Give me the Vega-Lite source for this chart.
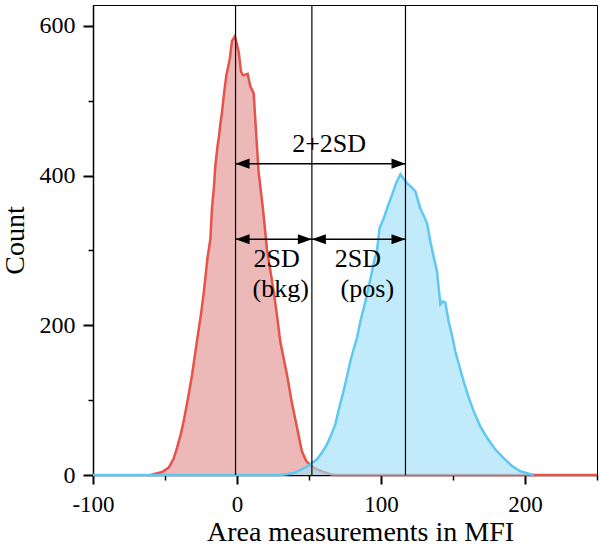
{
  "$schema": "https://vega.github.io/schema/vega-lite/v6.json",
  "width": 504,
  "height": 470,
  "autosize": "none",
  "padding": {"left": 93, "top": 5, "right": 3, "bottom": 70},
  "background": "white",
  "config": {
    "view": {"stroke": "black", "strokeWidth": 1},
    "font": "Liberation Serif"
  },
  "datasets": {
    "bkg": [
      {"mfi": -60, "count": 0}, {"mfi": -58, "count": 1}, {"mfi": -52, "count": 4}, {"mfi": -47.4, "count": 10},
      {"mfi": -44, "count": 22}, {"mfi": -41.7, "count": 36}, {"mfi": -39, "count": 55}, {"mfi": -37, "count": 72},
      {"mfi": -34, "count": 103}, {"mfi": -31.2, "count": 134}, {"mfi": -27.8, "count": 179}, {"mfi": -25, "count": 215},
      {"mfi": -23, "count": 245}, {"mfi": -20.5, "count": 290}, {"mfi": -18.5, "count": 315}, {"mfi": -17.4, "count": 356},
      {"mfi": -16, "count": 385}, {"mfi": -15, "count": 414}, {"mfi": -13.5, "count": 440}, {"mfi": -12.7, "count": 450},
      {"mfi": -11.5, "count": 470}, {"mfi": -10.4, "count": 485}, {"mfi": -9, "count": 510}, {"mfi": -7.4, "count": 534},
      {"mfi": -5, "count": 556}, {"mfi": -3.5, "count": 580}, {"mfi": -1.5, "count": 586}, {"mfi": 0, "count": 575},
      {"mfi": 1.2, "count": 565}, {"mfi": 2.8, "count": 539}, {"mfi": 4.2, "count": 534}, {"mfi": 7.4, "count": 536},
      {"mfi": 9.3, "count": 519}, {"mfi": 11.6, "count": 510}, {"mfi": 12.8, "count": 472}, {"mfi": 15, "count": 405},
      {"mfi": 18, "count": 356}, {"mfi": 20.8, "count": 302}, {"mfi": 23, "count": 275}, {"mfi": 25.5, "count": 245},
      {"mfi": 28, "count": 210}, {"mfi": 30, "count": 179}, {"mfi": 32.5, "count": 155}, {"mfi": 34.7, "count": 134},
      {"mfi": 38, "count": 98}, {"mfi": 41.7, "count": 63}, {"mfi": 45, "count": 32}, {"mfi": 48, "count": 19},
      {"mfi": 51, "count": 13}, {"mfi": 55, "count": 8}, {"mfi": 60, "count": 4}, {"mfi": 65, "count": 1},
      {"mfi": 68, "count": 0}, {"mfi": 250, "count": 0}
    ],
    "pos": [
      {"mfi": -100, "count": 0}, {"mfi": 30, "count": 0}, {"mfi": 34.7, "count": 1}, {"mfi": 40, "count": 3},
      {"mfi": 47.5, "count": 10}, {"mfi": 52, "count": 16}, {"mfi": 55.6, "count": 21}, {"mfi": 59, "count": 30},
      {"mfi": 62.5, "count": 41}, {"mfi": 65.5, "count": 54}, {"mfi": 68.3, "count": 68}, {"mfi": 71, "count": 90},
      {"mfi": 74, "count": 112}, {"mfi": 76.5, "count": 133}, {"mfi": 78.7, "count": 152}, {"mfi": 81, "count": 168},
      {"mfi": 83.3, "count": 183}, {"mfi": 86, "count": 208}, {"mfi": 89.2, "count": 232}, {"mfi": 91.5, "count": 252},
      {"mfi": 93.7, "count": 272}, {"mfi": 95.5, "count": 288}, {"mfi": 97.2, "count": 299}, {"mfi": 99, "count": 330},
      {"mfi": 101.9, "count": 343}, {"mfi": 104.5, "count": 358}, {"mfi": 107.6, "count": 374}, {"mfi": 110.5, "count": 390},
      {"mfi": 113.5, "count": 402}, {"mfi": 116, "count": 395}, {"mfi": 118, "count": 390}, {"mfi": 121, "count": 385},
      {"mfi": 123.9, "count": 379}, {"mfi": 125.5, "count": 368}, {"mfi": 127.3, "count": 356}, {"mfi": 130, "count": 345},
      {"mfi": 132, "count": 336}, {"mfi": 134.3, "count": 312}, {"mfi": 136.5, "count": 292}, {"mfi": 138.9, "count": 272},
      {"mfi": 141.2, "count": 228}, {"mfi": 143, "count": 232}, {"mfi": 144.7, "count": 230}, {"mfi": 147, "count": 205},
      {"mfi": 149.5, "count": 185}, {"mfi": 151.6, "count": 165}, {"mfi": 154.5, "count": 145}, {"mfi": 157.4, "count": 125},
      {"mfi": 161, "count": 103}, {"mfi": 164.4, "count": 85}, {"mfi": 169, "count": 65}, {"mfi": 173.6, "count": 50},
      {"mfi": 179, "count": 35}, {"mfi": 185, "count": 23}, {"mfi": 191, "count": 12}, {"mfi": 196.8, "count": 5},
      {"mfi": 202, "count": 2}, {"mfi": 206, "count": 0}
    ],
    "markers": [{"mfi": -1}, {"mfi": 52}, {"mfi": 117}],
    "arrows": [
      {"mfi": -1, "mfi_end": 117, "count": 416},
      {"mfi": -1, "mfi_end": 52, "count": 315},
      {"mfi": 52, "mfi_end": 117, "count": 315}
    ],
    "labels": [
      {"mfi": 64, "count": 442, "text": "2+2SD"},
      {"mfi": 27.5, "count": 289, "text": "2SD"},
      {"mfi": 30.3, "count": 249, "text": "(bkg)"},
      {"mfi": 83.9, "count": 289, "text": "2SD"},
      {"mfi": 90.5, "count": 249, "text": "(pos)"}
    ]
  },
  "layer": [
    {
      "data": {"name": "bkg"},
      "mark": {"type": "area", "color": "#EDB8B8", "opacity": 1, "line": {"color": "#E5534B", "strokeWidth": 2.5}},
      "encoding": {
        "x": {
          "field": "mfi", "type": "quantitative",
          "scale": {"domain": [-100, 250], "nice": false, "zero": false},
          "axis": {
            "title": "Area measurements in MFI",
            "values": [-100, -75, -50, -25, 0, 25, 50, 75, 100, 125, 150, 175, 200, 225, 250],
            "labelExpr": "datum.value % 100 === 0 ? '' + datum.value : ''",
            "labelFont": "Liberation Serif", "labelFontSize": 23, "labelColor": "black",
            "labelPadding": 9, "labelFlush": false, "labelOverlap": false,
            "tickSize": {"condition": {"test": "datum.value % 100 === 0", "value": 9}, "value": 5},
            "tickWidth": {"condition": {"test": "datum.value % 100 === 0", "value": 2}, "value": 1.5},
            "tickColor": "black", "domainColor": "black", "domainWidth": 1.5, "grid": false,
            "titleFont": "Liberation Serif", "titleFontSize": 28, "titleFontWeight": "normal", "titleColor": "black",
            "titleX": 267, "titleY": 65, "titleBaseline": "alphabetic", "titleAlign": "center"
          }
        },
        "y": {
          "field": "count", "type": "quantitative",
          "scale": {"domain": [0, 628], "nice": false},
          "axis": {
            "title": "Count",
            "values": [0, 50, 100, 150, 200, 250, 300, 350, 400, 450, 500, 550, 600],
            "labelExpr": "datum.value % 200 === 0 ? '' + datum.value : ''",
            "labelFont": "Liberation Serif", "labelFontSize": 24, "labelColor": "black",
            "labelPadding": 8, "labelFlush": false, "labelOverlap": false,
            "tickSize": {"condition": {"test": "datum.value % 200 === 0", "value": 10}, "value": 5},
            "tickWidth": {"condition": {"test": "datum.value % 200 === 0", "value": 2}, "value": 1.5},
            "tickColor": "black", "domainColor": "black", "domainWidth": 1.5, "grid": false,
            "titleFont": "Liberation Serif", "titleFontSize": 28, "titleFontWeight": "normal", "titleColor": "black",
            "titleX": -70, "titleBaseline": "alphabetic"
          }
        }
      }
    },
    {
      "data": {"name": "pos"},
      "mark": {"type": "area", "color": "#9FE0F7", "opacity": 0.65, "line": {"color": "#5EC8F3", "strokeWidth": 2.5, "opacity": 1}},
      "encoding": {
        "x": {"field": "mfi", "type": "quantitative"},
        "y": {"field": "count", "type": "quantitative"}
      }
    },
    {
      "data": {"name": "markers"},
      "mark": {"type": "rule", "color": "black", "strokeWidth": 1.2},
      "encoding": {
        "x": {"field": "mfi", "type": "quantitative"}
      }
    },
    {
      "data": {"name": "arrows"},
      "mark": {"type": "rule", "color": "black", "strokeWidth": 1.5},
      "encoding": {
        "x": {"field": "mfi", "type": "quantitative"},
        "x2": {"field": "mfi_end"},
        "y": {"field": "count", "type": "quantitative"}
      }
    },
    {
      "data": {"name": "arrows"},
      "mark": {"type": "point", "shape": "M0,0L1,-0.36L1,0.36Z", "filled": true, "color": "black", "opacity": 1, "size": 784, "strokeWidth": 0},
      "encoding": {
        "x": {"field": "mfi", "type": "quantitative"},
        "y": {"field": "count", "type": "quantitative"}
      }
    },
    {
      "data": {"name": "arrows"},
      "mark": {"type": "point", "shape": "M0,0L-1,-0.36L-1,0.36Z", "filled": true, "color": "black", "opacity": 1, "size": 784, "strokeWidth": 0},
      "encoding": {
        "x": {"field": "mfi_end", "type": "quantitative"},
        "y": {"field": "count", "type": "quantitative"}
      }
    },
    {
      "data": {"name": "labels"},
      "mark": {"type": "text", "font": "Liberation Serif", "fontSize": 26, "color": "black", "align": "center", "baseline": "middle"},
      "encoding": {
        "x": {"field": "mfi", "type": "quantitative"},
        "y": {"field": "count", "type": "quantitative"},
        "text": {"field": "text"}
      }
    }
  ]
}
